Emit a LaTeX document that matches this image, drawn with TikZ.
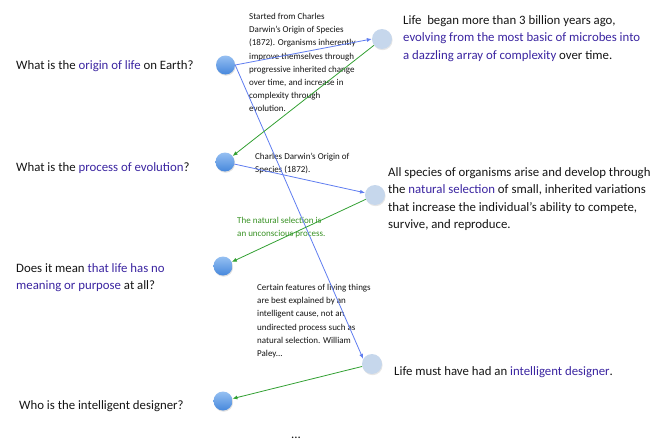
\documentclass[tikz,border=0pt]{standalone}
\usepackage{fontspec}
\setmainfont{Carlito}
\usetikzlibrary{arrows.meta,shadows}

\definecolor{hilite}{RGB}{58,36,160}
\definecolor{inkdark}{RGB}{20,20,20}
\definecolor{linkblue}{RGB}{95,125,240}
\definecolor{linkgreen}{RGB}{50,160,50}
\definecolor{notegreen}{RGB}{55,145,35}
\definecolor{dotpale}{RGB}{198,215,236}
\definecolor{dottop}{RGB}{150,192,242}
\definecolor{dotbottom}{RGB}{70,135,220}

\tikzset{
  question/.style={circle, minimum size=19pt, inner sep=0pt,
    top color=dottop, bottom color=dotbottom, draw=none,
    drop shadow={opacity=0.25, shadow xshift=0.6pt, shadow yshift=-1.2pt}},
  answer/.style={circle, minimum size=20pt, inner sep=0pt, fill=dotpale, draw=none,
    drop shadow={opacity=0.2, shadow xshift=0.6pt, shadow yshift=-1.2pt}},
  bigtext/.style={anchor=north west, inner sep=0pt, align=left, text=inkdark,
    font=\fontsize{12.8}{17.5}\selectfont},
  smalltext/.style={anchor=north west, inner sep=0pt, align=left, text=inkdark,
    font=\fontsize{9}{13.2}\selectfont},
  forward/.style={draw=linkblue, line width=0.8pt, -{Latex[length=5pt,width=4pt]}},
  backward/.style={draw=linkgreen, line width=0.8pt, -{Latex[length=5pt,width=4pt]}},
}
\newcommand{\hl}[1]{\textcolor{hilite}{#1}}

\begin{document}
\begin{tikzpicture}[x=1pt,y=-1pt]
\useasboundingbox (0,0) rectangle (657,442);

% questions on the left
\node[bigtext] (q1) at (16,60) {What is the \hl{origin of life} on Earth?};
\node[bigtext] (q2) at (16,162) {What is the \hl{process of evolution}?};
\node[bigtext] (q3) at (16,263) {Does it mean \hl{that life has no}\\\hl{meaning or purpose} at all?};
\node[bigtext] (q4) at (19,400) {Who is the intelligent designer?};

% answers on the right
\node[bigtext] (a1) at (403,15) {Life\ \ began more than 3 billion years ago,\\
  \hl{evolving from the most basic of microbes into}\\
  \hl{a dazzling array of complexity} over time.};
\node[bigtext] (a2) at (388,167) {All species of organisms arise and develop through\\
  the \hl{natural selection} of small, inherited variations\\
  that increase the individual’s ability to compete,\\
  survive, and reproduce.};
\node[bigtext] (a3) at (394,366) {Life must have had an \hl{intelligent designer}.};

% small notes
\node[smalltext] (n1) at (249,13) {Started from Charles\\Darwin's Origin of Species\\(1872). Organisms inherently\\
  improve themselves through\\progressive inherited change\\over time, and increase in\\complexity through\\evolution.};
\node[smalltext] (n2) at (255,153) {Charles Darwin's Origin of\\Species (1872).};
\node[smalltext, text=notegreen] (n3) at (237,217) {The natural selection is\\an unconscious process.};
\node[smalltext] (n4) at (257,284) {Certain features of living things\\are best explained by an\\intelligent cause, not an\\
  undirected process such as\\natural selection. William\\Paley...};

\node[anchor=base, inner sep=0pt, text depth=0pt, text=inkdark,
  font=\fontsize{12.8}{15}\selectfont] (more) at (296,438) {...};

% dots
\node[question] (L1) at (225.5,65) {};
\node[question] (L2) at (225,162) {};
\node[question] (L3) at (223,266) {};
\node[question] (L4) at (223,401) {};
\node[answer] (R1) at (382,39) {};
\node[answer] (R2) at (375,195) {};
\node[answer] (R3) at (372,364) {};

% connectors
\draw[forward] (L1.east) -- (R1.west);
\draw[forward] (L1.east) -- (R3.150);
\draw[backward] (R1) -- (L2);
\draw[forward] (L2) -- (R2);
\draw[backward] (R2) -- (L3);
\draw[backward] (R3) -- (L4);
\end{tikzpicture}
\end{document}
